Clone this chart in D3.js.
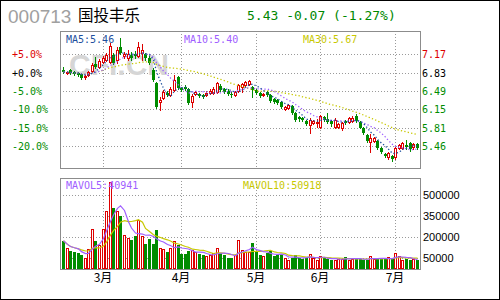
<!DOCTYPE html>
<html>
<head>
<meta charset="utf-8">
<script src="https://cdn.jsdelivr.net/npm/d3@7"></script>
<style>
  body { margin: 0; background: #fff; }
  svg text { font-family: "DejaVu Sans Mono", monospace; }
</style>
</head>
<body>
<script>
// stock header
var code = '000713', name = '国投丰乐';
var lastQuote = '5.43 -0.07 (-1.27%)';

// daily prices, 100 trading days (Feb - Jul)
var open = [6.88,6.82,6.88,6.84,6.82,6.81,6.75,6.79,6.86,6.99,
            6.94,7.03,7.07,7.03,7.16,7.07,7.31,7.14,7.10,7.16,
            7.18,7.14,7.20,7.18,7.10,6.88,6.64,6.29,6.36,6.45,
            6.42,6.51,6.75,6.55,6.56,6.53,6.29,6.43,6.43,6.42,
            6.42,6.45,6.45,6.47,6.58,6.53,6.49,6.43,6.42,6.49,
            6.56,6.60,6.62,6.56,6.51,6.45,6.42,6.47,6.42,6.34,
            6.32,6.29,6.16,6.17,6.21,6.08,6.01,5.99,5.93,5.86,
            5.90,5.90,5.82,6.01,5.97,5.93,5.82,5.82,5.80,5.93,
            5.92,5.93,6.03,5.92,5.80,5.67,5.54,5.56,5.56,5.43,
            5.32,5.25,5.28,5.25,5.43,5.43,5.49,5.52,5.45,5.51];
var close = [6.84,6.84,6.82,6.81,6.79,6.73,6.77,6.84,6.97,6.94,
             7.05,7.10,7.16,7.33,7.01,7.25,7.20,7.18,7.18,7.10,
             7.14,7.31,7.25,7.10,7.01,6.70,6.19,6.32,6.47,6.42,
             6.53,6.70,6.55,6.51,6.53,6.27,6.40,6.47,6.40,6.38,
             6.45,6.49,6.53,6.64,6.51,6.47,6.43,6.42,6.47,6.60,
             6.62,6.66,6.68,6.51,6.45,6.40,6.43,6.42,6.31,6.29,
             6.27,6.19,6.19,6.23,6.08,5.95,5.97,5.95,5.88,5.95,
             5.93,5.92,6.03,5.95,5.92,5.88,5.95,5.88,5.90,5.90,
             5.99,5.99,5.93,5.80,5.71,5.56,5.62,5.62,5.43,5.36,
             5.27,5.34,5.23,5.43,5.49,5.52,5.45,5.40,5.50,5.43];
var high = [6.94,6.86,6.90,6.86,6.84,6.82,6.79,6.86,7.01,7.12,
            7.08,7.14,7.20,7.38,7.20,7.31,7.47,7.21,7.25,7.21,
            7.23,7.40,7.36,7.20,7.14,6.92,6.66,6.38,6.51,6.49,
            6.56,6.79,6.77,6.56,6.60,6.55,6.43,6.49,6.45,6.43,
            6.49,6.53,6.56,6.66,6.62,6.55,6.53,6.47,6.49,6.62,
            6.64,6.68,6.70,6.58,6.53,6.47,6.45,6.49,6.43,6.36,
            6.34,6.31,6.21,6.25,6.23,6.10,6.03,6.01,5.95,5.99,
            5.95,5.97,6.04,6.03,6.08,5.95,5.99,5.90,5.92,5.95,
            6.01,6.03,6.06,5.93,5.82,5.69,5.69,5.64,5.58,5.45,
            5.34,5.36,5.30,5.45,5.51,5.54,5.58,5.54,5.52,5.52];
var low = [6.82,6.81,6.81,6.79,6.77,6.71,6.71,6.77,6.84,6.92,
           6.92,7.01,7.05,7.01,6.99,7.01,7.18,7.10,7.07,7.07,
           7.10,7.12,7.07,7.07,6.99,6.68,6.17,6.14,6.34,6.40,
           6.40,6.49,6.53,6.49,6.51,6.25,6.19,6.42,6.38,6.36,
           6.40,6.43,6.43,6.45,6.49,6.45,6.42,6.38,6.40,6.47,
           6.47,6.58,6.60,6.38,6.43,6.38,6.40,6.40,6.29,6.27,
           6.25,6.17,6.14,6.16,6.06,5.93,5.93,5.93,5.86,5.71,
           5.88,5.82,5.80,5.93,5.90,5.84,5.80,5.80,5.77,5.88,
           5.90,5.92,5.92,5.79,5.69,5.54,5.36,5.54,5.41,5.34,
           5.25,5.23,5.19,5.23,5.41,5.41,5.40,5.38,5.41,5.41];
var volume = [175000,123000,104000,98000,85000,76000,52000,116000,258000,175000,
              147000,258000,384000,592000,408000,384000,348000,218000,194000,182000,
              206000,324000,206000,152000,189000,152000,249000,123000,116000,98000,
              120000,171000,147000,80000,80000,104000,110000,98000,80000,70000,
              64000,70000,86000,123000,86000,70000,55000,52000,76000,180000,
              110000,98000,98000,160000,92000,76000,64000,86000,104000,64000,
              70000,76000,52000,40000,55000,70000,52000,47000,52000,80000,
              52000,40000,64000,52000,45000,40000,40000,45000,47000,60000,
              40000,45000,47000,45000,40000,40000,68000,47000,45000,45000,
              45000,58000,45000,88000,68000,38000,44000,38000,45000,40000];

// x axis: index of first trading day of each month
var monthStart = [11, 33, 54, 72, 93];
var monthLabels = ['3月', '4月', '5月', '6月', '7月'];

// axis ticks
var basePrice = 6.83;
var pctTicks = [5, 0, -5, -10, -15, -20];
var volTicks = [500000, 350000, 200000, 50000];

// legend values
var maLegend = [['MA5', '5.46', '#1d4f9e'], ['MA10', '5.40', '#a060ff'], ['MA30', '5.67', '#c8c800']];
var volLegend = [['MAVOL5', '40941', '#a060ff'], ['MAVOL10', '50918', '#c8c800']];

var RED = '#dd0000', GREEN = '#008c00';

var svg = d3.select('body').append('svg')
  .attr('width', 500).attr('height', 300)
  .style('display', 'block');

svg.append('rect').attr('x', 0.5).attr('y', 0.5).attr('width', 499).attr('height', 299)
  .attr('fill', '#fff').attr('stroke', '#000');

// header
svg.append('text').attr('x', 8).attr('y', 23).text(code)
  .style('font-family', 'Liberation Sans, Arial, sans-serif').style('font-size', '19px').attr('fill', '#a0a0a0');
svg.append('text').attr('x', 78).attr('y', 21).text(name)
  .style('font-family', '"Noto Sans CJK SC", sans-serif').style('font-size', '15.5px').attr('fill', '#000');
svg.append('text').attr('x', 247).attr('y', 20).text(lastQuote)
  .style('font-size', '13px').attr('fill', '#008800');

var L = 60, R = 420;
var top1 = 31, bot1 = 168, top2 = 178, bot2 = 269;

var idx = d3.range(close.length);
var x = d3.scaleBand().domain(idx).range([61.5, 418.5]).padding(0);
function cx(i) { return Math.round(x(i) + x.bandwidth() / 2); }

var y = d3.scaleLinear().domain([basePrice * 0.8, basePrice * 1.05]).range([146, 54.3]);
var yv = d3.scaleLinear().domain([50000, 500000]).range([258.3, 195]);

var grid = svg.append('g').attr('stroke', '#9a9a9a').attr('stroke-dasharray', '1,2')
  .attr('shape-rendering', 'crispEdges');

// horizontal grid, upper
grid.selectAll('.hp').data(pctTicks).enter().append('line')
  .attr('x1', L).attr('x2', R)
  .attr('y1', function(d) { return Math.round(y(basePrice * (1 + d / 100))) + 0.5; })
  .attr('y2', function(d) { return Math.round(y(basePrice * (1 + d / 100))) + 0.5; });
// horizontal grid, lower
grid.selectAll('.hv').data(volTicks).enter().append('line')
  .attr('x1', L).attr('x2', R)
  .attr('y1', function(d) { return Math.round(yv(d)) + 0.5; })
  .attr('y2', function(d) { return Math.round(yv(d)) + 0.5; });
// vertical month lines in both panels
[[top1, bot1], [top2, bot2]].forEach(function(p) {
  grid.selectAll(null).data(monthStart).enter().append('line')
    .attr('x1', function(d) { return cx(d) + 0.5; }).attr('x2', function(d) { return cx(d) + 0.5; })
    .attr('y1', p[0]).attr('y2', p[1]);
});

// watermark
svg.append('text').attr('x', 69).attr('y', 75).text('CFI.CN')
  .style('font-family', 'Liberation Sans, Arial, sans-serif').style('font-weight', 'bold')
  .style('font-size', '30px').attr('fill', '#d6d6d6');

// candles
var candles = svg.append('g').attr('shape-rendering', 'crispEdges');
idx.forEach(function(i) {
  var up = close[i] >= open[i];
  var c = cx(i);
  var yo = Math.round(y(open[i])), yc = Math.round(y(close[i]));
  var yh = Math.round(y(high[i])), yl = Math.round(y(low[i]));
  var g = candles.append('g');
  if (up) {
    g.append('line').attr('x1', c + 0.5).attr('x2', c + 0.5).attr('y1', yh).attr('y2', yc)
      .attr('stroke', RED);
    g.append('line').attr('x1', c + 0.5).attr('x2', c + 0.5).attr('y1', yo).attr('y2', yl + 1)
      .attr('stroke', RED);
    g.append('rect').attr('x', c - 0.5).attr('y', yc + 0.5)
      .attr('width', 2).attr('height', Math.max(0, yo - yc))
      .attr('fill', '#fff').attr('stroke', RED);
  } else {
    g.append('line').attr('x1', c + 0.5).attr('x2', c + 0.5).attr('y1', yh).attr('y2', yl + 1)
      .attr('stroke', GREEN);
    g.append('rect').attr('x', c - 1).attr('y', yo)
      .attr('width', 3).attr('height', Math.max(1, yc - yo))
      .attr('fill', GREEN);
  }
});

// moving averages (partial window at start)
function movingAvg(arr, n) {
  return arr.map(function(v, i) {
    return d3.mean(arr.slice(Math.max(0, i - n + 1), i + 1));
  });
}
var priceLine = d3.line().x(function(d, i) { return cx(i) + 0.5; }).y(function(d) { return y(d); });
var volLine = d3.line().x(function(d, i) { return cx(i) + 0.5; }).y(function(d) { return yv(d); });

[[30, maLegend[2][2]], [10, maLegend[1][2]], [5, maLegend[0][2]]].forEach(function(m) {
  svg.append('path').datum(movingAvg(close, m[0])).attr('d', priceLine)
    .attr('fill', 'none').attr('stroke', m[1]).attr('stroke-width', 1.3)
    .attr('stroke-dasharray', '1.3,2.2');
});

// volume bars
var vols = svg.append('g').attr('shape-rendering', 'crispEdges');
idx.forEach(function(i) {
  var up = close[i] >= open[i];
  var c = cx(i);
  var yt = Math.round(yv(volume[i]));
  if (up) {
    vols.append('rect').attr('x', c - 0.5).attr('y', yt + 0.5)
      .attr('width', 2).attr('height', bot2 - 1 - yt)
      .attr('fill', '#fff').attr('stroke', RED);
  } else {
    vols.append('rect').attr('x', c - 1).attr('y', yt)
      .attr('width', 3).attr('height', bot2 - yt)
      .attr('fill', GREEN);
  }
});

svg.append('path').datum(movingAvg(volume, 10)).attr('d', volLine)
  .attr('fill', 'none').attr('stroke', volLegend[1][2]).attr('stroke-width', 1.2);
svg.append('path').datum(movingAvg(volume, 5)).attr('d', volLine)
  .attr('fill', 'none').attr('stroke', volLegend[0][2]).attr('stroke-width', 1.2);

// panel borders
[[top1, bot1], [top2, bot2]].forEach(function(p) {
  svg.append('rect').attr('x', L + 0.5).attr('y', p[0] + 0.5)
    .attr('width', R - L).attr('height', p[1] - p[0])
    .attr('fill', 'none').attr('stroke', '#8c8c8c').attr('shape-rendering', 'crispEdges');
});

// legends
var maX = [66, 184, 303];
maLegend.forEach(function(m, k) {
  svg.append('text').attr('x', maX[k]).attr('y', 43).text(m[0] + ':' + m[1])
    .style('font-size', '10px').attr('fill', m[2]);
});
var volX = [66, 243];
volLegend.forEach(function(m, k) {
  svg.append('text').attr('x', volX[k]).attr('y', 189).text(m[0] + ':' + m[1])
    .style('font-size', '10px').attr('fill', m[2]);
});

// axis labels
function tickColor(d) { return d > 0 ? RED : (d < 0 ? GREEN : '#000'); }
svg.selectAll('.pl').data(pctTicks).enter().append('text')
  .attr('x', 12).attr('y', function(d) { return y(basePrice * (1 + d / 100)) + 4; })
  .text(function(d) { return (d >= 0 ? '+' : '') + d.toFixed(1) + '%'; })
  .style('font-size', '10px').attr('fill', tickColor);
svg.selectAll('.pr').data(pctTicks).enter().append('text')
  .attr('x', 422).attr('y', function(d) { return y(basePrice * (1 + d / 100)) + 4; })
  .text(function(d) { return (basePrice * (1 + d / 100)).toFixed(2); })
  .style('font-size', '10px').attr('fill', tickColor);
svg.selectAll('.vl').data(volTicks).enter().append('text')
  .attr('x', 423).attr('y', function(d) { return yv(d) + 4; })
  .text(function(d) { return d; })
  .style('font-family', 'Liberation Sans, Arial, sans-serif').style('font-size', '11px').attr('fill', '#000');

svg.selectAll('.ml').data(monthStart).enter().append('text')
  .attr('x', function(d) { return cx(d); }).attr('y', 282)
  .attr('text-anchor', 'middle')
  .text(function(d, k) { return monthLabels[k]; })
  .style('font-family', '"Noto Sans CJK SC", sans-serif').style('font-size', '12px').attr('fill', '#000');
</script>
</body>
</html>
